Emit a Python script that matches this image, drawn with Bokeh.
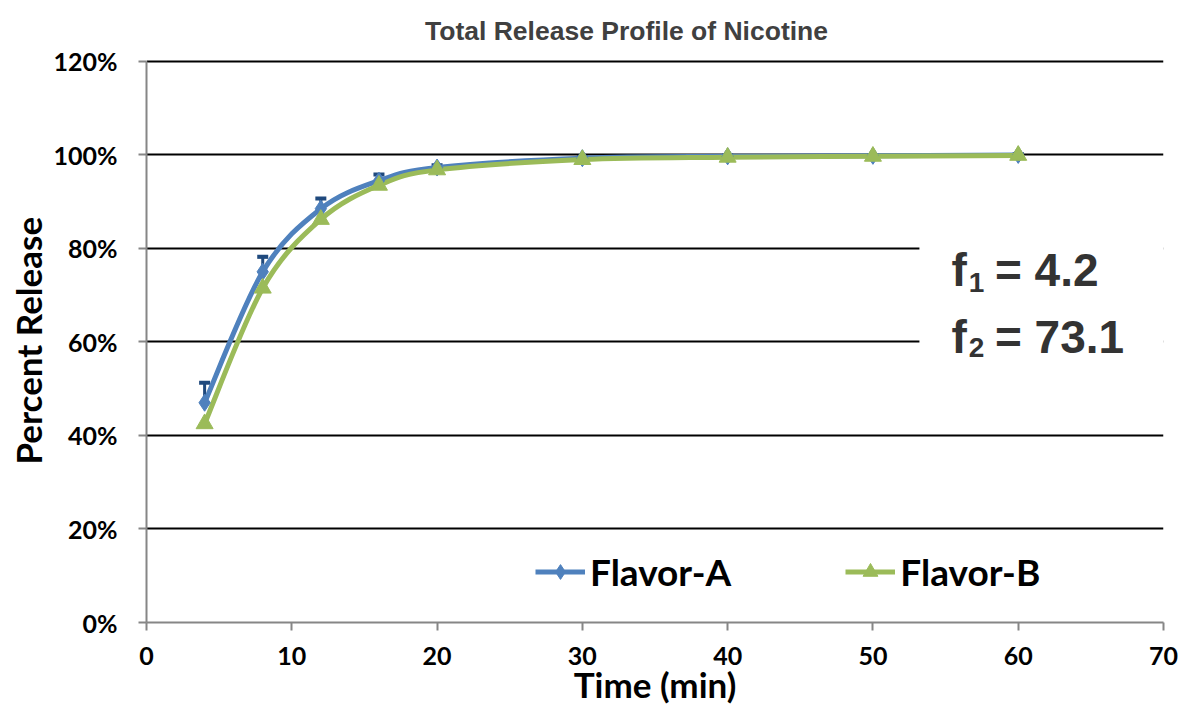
from bokeh.plotting import figure
from bokeh.models import (Legend, LegendItem, Whisker, TeeHead, ColumnDataSource,
                          NumeralTickFormatter, FixedTicker, BoxAnnotation, Label,
                          Range1d, Title)
from bokeh.embed import file_html
from bokeh.resources import INLINE

# Sampling times (min)
time_min = [4, 8, 12, 16, 20, 30, 40, 50, 60]
# Cumulative release (fraction of total)
flavor_a = [0.470, 0.750, 0.885, 0.945, 0.973, 0.993, 0.997, 0.998, 1.000]
flavor_a_err = [0.043, 0.032, 0.022, 0.013, 0.005, 0.002, 0.002, 0.002, 0.002]
flavor_b = [0.425, 0.715, 0.862, 0.935, 0.968, 0.990, 0.995, 0.997, 0.999]

x_ticks = [0, 10, 20, 30, 40, 50, 60, 70]
y_ticks = [0, 0.2, 0.4, 0.6, 0.8, 1.0, 1.2]

BLUE = "#4F81BD"
GREEN = "#9BBB59"
DARK_BLUE = "#1F497D"
TXT = "Lato"

# The frame reaches the top of the canvas so the title can sit inside it;
# the visible axis stops at 120 %, 61 px below the top edge.
Y_TOP = 1.2 * 623 / 562


def smooth_segments(xs, ys):
    """Cubic Bezier segments through the points (Catmull-Rom style smoothing)."""
    n = len(xs)
    seg = dict(x0=[], y0=[], x1=[], y1=[], cx0=[], cy0=[], cx1=[], cy1=[])
    for i in range(n - 1):
        p0 = (xs[max(i - 1, 0)], ys[max(i - 1, 0)])
        p1 = (xs[i], ys[i])
        p2 = (xs[i + 1], ys[i + 1])
        p3 = (xs[min(i + 2, n - 1)], ys[min(i + 2, n - 1)])
        seg["x0"].append(p1[0]); seg["y0"].append(p1[1])
        seg["x1"].append(p2[0]); seg["y1"].append(p2[1])
        seg["cx0"].append(p1[0] + (p2[0] - p0[0]) / 6.0)
        seg["cy0"].append(p1[1] + (p2[1] - p0[1]) / 6.0)
        seg["cx1"].append(p2[0] - (p3[0] - p1[0]) / 6.0)
        seg["cy1"].append(p2[1] - (p3[1] - p1[1]) / 6.0)
    return ColumnDataSource(seg)


p = figure(width=1180, height=707, output_backend="svg", toolbar_location=None,
           x_range=Range1d(0, 70), y_range=Range1d(0, Y_TOP),
           min_border_left=146, min_border_right=17,
           min_border_top=0, min_border_bottom=84)
p.outline_line_color = None
p.background_fill_color = "white"
p.border_fill_color = "white"

# Axes
for ax in (p.xaxis[0], p.yaxis[0]):
    ax.axis_line_color = "#868686"
    ax.axis_line_width = 2
    ax.major_tick_line_color = "#868686"
    ax.major_tick_line_width = 2
    ax.major_tick_in = 0
    ax.major_tick_out = 8
    ax.minor_tick_line_color = None
    ax.major_label_text_font = TXT
    ax.major_label_text_font_style = "bold"
    ax.major_label_text_font_size = "25px"
    ax.major_label_text_color = "black"
    ax.axis_label_text_font = TXT
    ax.axis_label_text_font_style = "bold"
    ax.axis_label_text_color = "black"

p.xaxis.ticker = FixedTicker(ticks=x_ticks)
p.yaxis.ticker = FixedTicker(ticks=y_ticks)
p.yaxis.bounds = (0, 1.2)
p.yaxis.formatter = NumeralTickFormatter(format="0%")
p.xaxis.axis_label = "Time (min)"
p.xaxis.axis_label_text_font_size = "35px"
p.xaxis.major_label_standoff = 16
p.xaxis.axis_label_standoff = -5
p.yaxis.major_label_standoff = 21

# y-axis title, positioned along the 0-120 % span of the axis
p.add_layout(Title(text="Percent Release", align="left", offset=158,
                   vertical_align="bottom", standoff=4,
                   text_font=TXT, text_font_style="bold", text_font_size="35px",
                   text_color="black"), "left")

p.xgrid.grid_line_color = None
p.ygrid.ticker = FixedTicker(ticks=y_ticks[1:])
p.ygrid.grid_line_color = "black"
p.ygrid.grid_line_width = 2

# Chart title
p.add_layout(Label(x=33.04, y=1.264, text="Total Release Profile of Nicotine",
                   text_font="Liberation Sans", text_font_style="bold",
                   text_font_size="26.5px", text_color="#404040",
                   text_align="center", text_baseline="alphabetic"))

# White panel behind the similarity factors
p.add_layout(BoxAnnotation(left=53.2, right=72, bottom=0.5, top=0.9,
                           fill_color="white", fill_alpha=1.0, line_color=None,
                           level="underlay"))

# Smoothed profiles
p.bezier(x0="x0", y0="y0", x1="x1", y1="y1", cx0="cx0", cy0="cy0", cx1="cx1", cy1="cy1",
         source=smooth_segments(time_min, flavor_a), line_color=BLUE, line_width=5)
p.bezier(x0="x0", y0="y0", x1="x1", y1="y1", cx0="cx0", cy0="cy0", cx1="cx1", cy1="cy1",
         source=smooth_segments(time_min, flavor_b), line_color=GREEN, line_width=5)

p.scatter(time_min, flavor_a, marker="diamond", size=17, fill_color=BLUE, line_color=BLUE)
p.scatter(time_min, flavor_b, marker="triangle", size=17, fill_color=GREEN, line_color=GREEN)

# Upper error bars for Flavor-A
err_src = ColumnDataSource(dict(
    t=time_min, lo=flavor_a,
    hi=[v + e for v, e in zip(flavor_a, flavor_a_err)]))
p.add_layout(Whisker(base="t", lower="lo", upper="hi", source=err_src,
                     line_color=DARK_BLUE, line_width=3,
                     upper_head=TeeHead(size=11, line_color=DARK_BLUE, line_width=4),
                     lower_head=None))

# Legend swatches (points placed outside the visible range)
off_x, off_y = [-10, -9], [-1, -1]
la = p.line(off_x, off_y, line_color=BLUE, line_width=5)
ma = p.scatter(off_x, off_y, marker="diamond", size=18, fill_color=BLUE, line_color=BLUE)
lb = p.line(off_x, off_y, line_color=GREEN, line_width=5)
mb = p.scatter(off_x, off_y, marker="triangle", size=18, fill_color=GREEN, line_color=GREEN)
legend = Legend(items=[LegendItem(label="Flavor-A", renderers=[la, ma], index=0),
                       LegendItem(label="Flavor-B", renderers=[lb, mb], index=0)],
                orientation="horizontal", location=(389, 28),
                border_line_color=None, background_fill_alpha=0,
                label_text_font=TXT, label_text_font_style="bold",
                label_text_font_size="37px", label_text_color="black",
                glyph_width=50, glyph_height=37, label_standoff=5,
                spacing=114, padding=0, margin=0)
p.add_layout(legend)

# Similarity factors
FS = dict(text_font="Liberation Sans", text_font_style="bold", text_color="#333333",
          text_baseline="alphabetic")
p.add_layout(Label(x=55.4, y=0.754, text="f", text_font_size="46px", **FS))
p.add_layout(Label(x=56.6, y=0.728, text="1", text_font_size="28px", **FS))
p.add_layout(Label(x=58.4, y=0.754, text="= 4.2", text_font_size="46px", **FS))
p.add_layout(Label(x=55.4, y=0.611, text="f", text_font_size="46px", **FS))
p.add_layout(Label(x=56.6, y=0.589, text="2", text_font_size="28px", **FS))
p.add_layout(Label(x=58.4, y=0.611, text="= 73.1", text_font_size="46px", **FS))

open("out.html", "w").write(file_html(p, INLINE))
